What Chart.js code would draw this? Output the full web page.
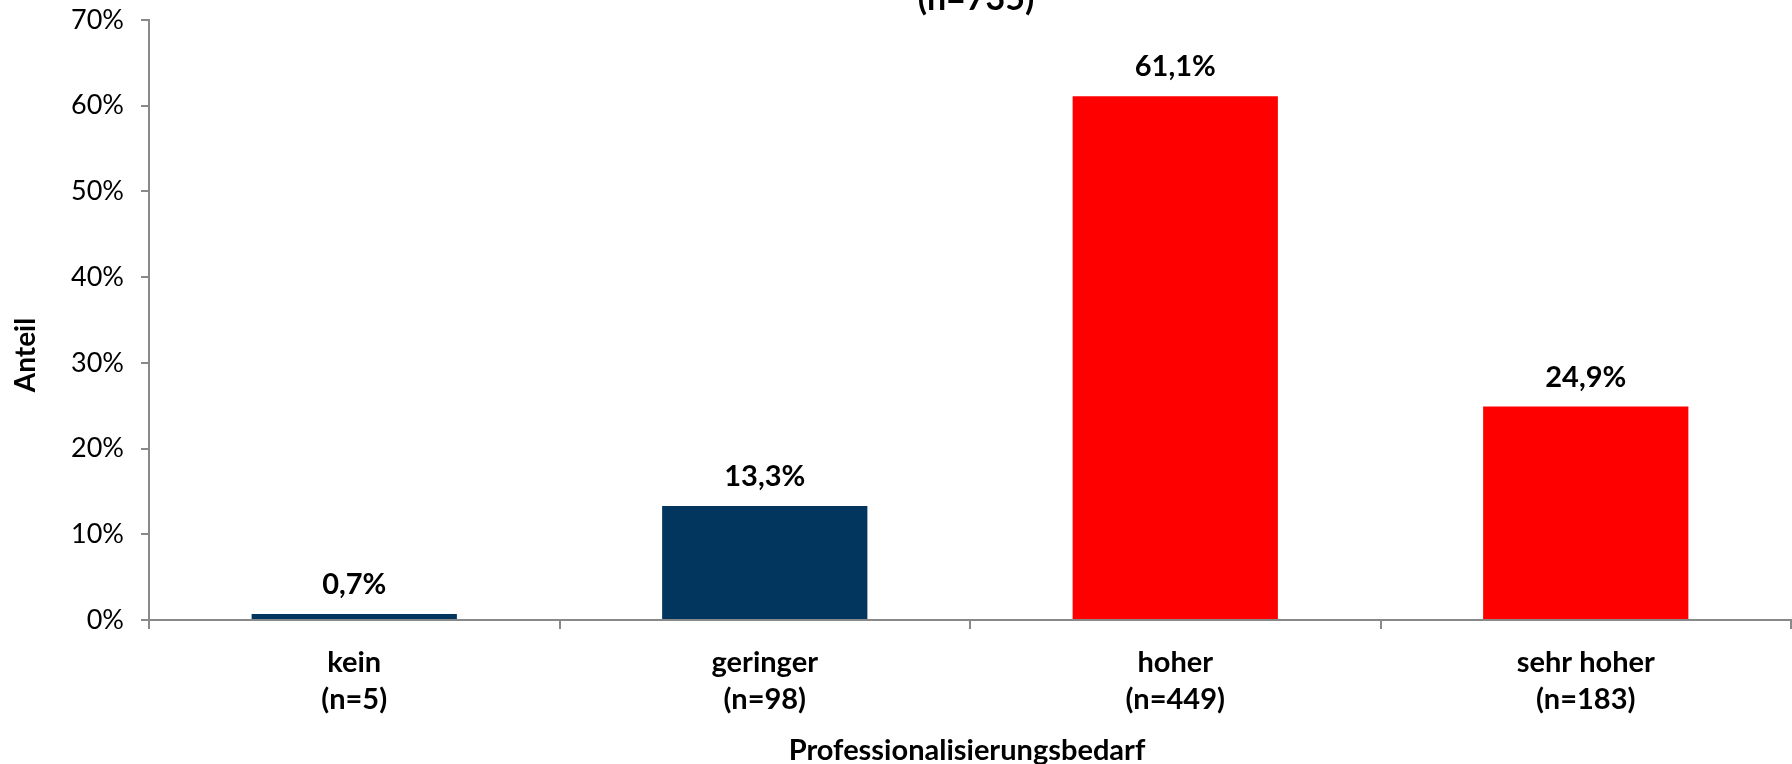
<!DOCTYPE html>
<html lang="de">
<head>
<meta charset="utf-8">
<title>Professionalisierungsbedarf</title>
<script src="https://cdn.jsdelivr.net/npm/chart.js@4/dist/chart.umd.min.js"></script>
<style>
  html, body { margin: 0; padding: 0; background: #ffffff; overflow: hidden; }
  #wrap { position: relative; width: 1792px; height: 764px; }
</style>
</head>
<body>
<div id="wrap"><canvas id="chart" width="1792" height="764"></canvas></div>
<script>
// Kategorien, Fallzahlen und Anteile (in %)
const categories = ['kein', 'geringer', 'hoher', 'sehr hoher'];
const counts = [5, 98, 449, 183];
const shares = [0.7, 13.3, 61.1, 24.9];
const barColors = ['#02365F', '#02365F', '#FF0000', '#FF0000'];
const yTickStep = 10;
const yMax = 70;
const totalN = 735;

const chartTitle = '(n=' + totalN + ')';
const yTitle = 'Anteil';
const xTitle = 'Professionalisierungsbedarf';

const FONT = 'Lato, "Open Sans", sans-serif';
const axisGrey = '#898989';

const fmtPct = v => v.toFixed(1).replace('.', ',') + '%';

// Werte über den Balken
const valueLabels = {
  id: 'valueLabels',
  afterDatasetsDraw(chart) {
    const ctx = chart.ctx;
    ctx.save();
    ctx.font = 'bold 29px ' + FONT;
    ctx.fillStyle = '#000000';
    ctx.textAlign = 'center';
    ctx.textBaseline = 'alphabetic';
    chart.getDatasetMeta(0).data.forEach((bar, i) => {
      ctx.fillText(fmtPct(shares[i]), bar.x, bar.y - 20);
    });
    ctx.restore();
  }
};

// Diagramm- und Achsentitel
const titles = {
  id: 'titles',
  afterDraw(chart) {
    const ctx = chart.ctx;
    const area = chart.chartArea;
    ctx.save();
    ctx.fillStyle = '#000000';
    ctx.textAlign = 'center';
    ctx.textBaseline = 'alphabetic';

    ctx.font = 'bold 34px ' + FONT;
    ctx.fillText(chartTitle, (area.left + area.right) / 2 + 6, 10);

    ctx.font = 'bold 29px ' + FONT;
    ctx.fillText(xTitle, (area.left + area.right) / 2 - 3, 760);

    ctx.translate(35, 355);
    ctx.rotate(-Math.PI / 2);
    ctx.font = 'bold 28px ' + FONT;
    ctx.fillText(yTitle, 0, 0);
    ctx.restore();
  }
};

new Chart(document.getElementById('chart'), {
  type: 'bar',
  data: {
    labels: categories.map((c, i) => [c, '(n=' + counts[i] + ')']),
    datasets: [{
      data: shares,
      backgroundColor: barColors,
      borderWidth: 0,
      categoryPercentage: 1.0,
      barPercentage: 0.5
    }]
  },
  options: {
    responsive: false,
    devicePixelRatio: 1,
    animation: false,
    layout: { padding: { left: 0, right: 1, top: 20, bottom: 0 } },
    plugins: {
      legend: { display: false },
      title: { display: false },
      tooltip: { enabled: false }
    },
    scales: {
      x: {
        afterFit: s => { s.height = 144; s.paddingLeft = 0; s.paddingRight = 0; },
        border: { display: true, color: axisGrey, width: 2 },
        grid: {
          offset: true,
          drawOnChartArea: false,
          drawTicks: true,
          tickLength: 9,
          color: axisGrey,
          lineWidth: 2
        },
        ticks: {
          color: '#000000',
          font: { family: FONT, size: 29, weight: 'bold', lineHeight: 1.28 },
          padding: 15,
          maxRotation: 0,
          autoSkip: false
        }
      },
      y: {
        min: 0,
        max: yMax,
        afterFit: s => { s.width = 149; s.paddingTop = 0; s.paddingBottom = 0; },
        border: { display: true, color: axisGrey, width: 2 },
        grid: {
          drawOnChartArea: false,
          drawTicks: true,
          tickLength: 8,
          color: axisGrey,
          lineWidth: 2
        },
        ticks: {
          stepSize: yTickStep,
          color: '#000000',
          font: { family: FONT, size: 27 },
          padding: 17,
          callback: v => v + '%'
        }
      }
    }
  },
  plugins: [valueLabels, titles]
});
</script>
</body>
</html>
